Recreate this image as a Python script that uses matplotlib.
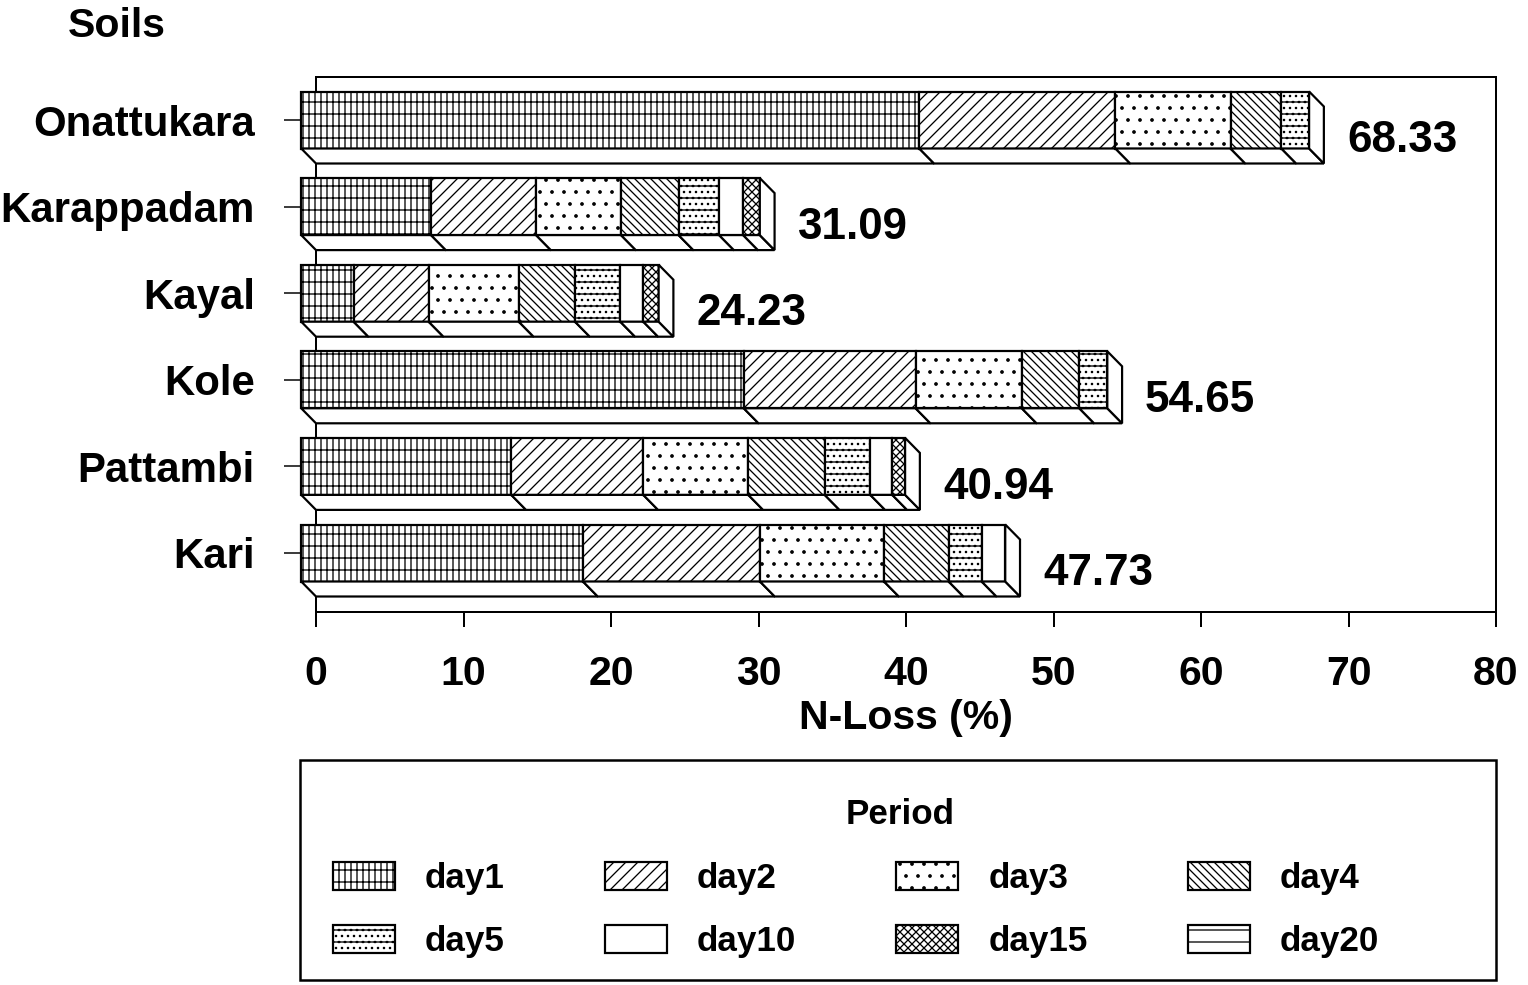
import matplotlib
matplotlib.use('Agg')
import matplotlib.pyplot as plt
from matplotlib.patches import Polygon, Patch, Rectangle
import numpy as np

plt.rcParams['font.family'] = ['Liberation Sans', 'DejaVu Sans']
plt.rcParams['font.weight'] = 'bold'
plt.rcParams['hatch.linewidth'] = 1.3

soils = ['Onattukara', 'Karappadam', 'Kayal', 'Kole', 'Pattambi', 'Kari']
totals = [68.33, 31.09, 24.23, 54.65, 40.94, 47.73]
periods = ['day1', 'day2', 'day3', 'day4', 'day5', 'day10', 'day15', 'day20']
day1 = [41.9, 8.80, 3.55, 30.0, 14.24, 19.1]
day2 = [13.3, 7.12, 5.09, 11.65, 8.95, 12.0]
day3 = [7.8, 5.76, 6.11, 7.2, 7.12, 8.41]
day4 = [3.45, 3.9, 3.81, 3.9, 5.18, 4.38]
day5 = [1.88, 2.75, 3.07, 1.9, 3.09, 2.24]
day10 = [0, 1.63, 1.56, 0, 1.49, 1.6]
day15 = [0, 1.12, 1.05, 0, 0.88, 0]
day20 = [0, 0, 0, 0, 0, 0]
series = [day1, day2, day3, day4, day5, day10, day15, day20]
hatches = ['||-', '//', '.', '\\\\\\', '..-', '', 'xxx', '-']
xticks = [0, 10, 20, 30, 40, 50, 60, 70, 80]

W, H = 1528, 985
fig = plt.figure(figsize=(W / 72, H / 72), dpi=72)
ax = fig.add_axes([316 / W, 1 - 612 / H, 1180 / W, 535 / H])
ax.set_xlim(0, 80)
ypx = 86.6
ax.set_ylim(5 + 59 / ypx, -43 / ypx)

dx = 1.0
dy = 15 / ypx
h = 57 / ypx
ypos = np.arange(len(soils))
lw = 2.2

cum = np.zeros(len(soils))
for vals, hat in zip(series, hatches):
    vals = np.array(vals, dtype=float)
    idx = vals > 0
    if idx.any():
        ax.barh(ypos[idx], vals[idx], left=cum[idx] - dx, height=h,
                color='white', edgecolor='black', hatch=hat, linewidth=lw,
                clip_on=False, zorder=3)
        for j in np.where(idx)[0]:
            l, r = cum[j], cum[j] + vals[j]
            yb = ypos[j] + h / 2
            poly = Polygon([(l - dx, yb), (r - dx, yb), (r, yb + dy), (l, yb + dy)],
                           closed=True, facecolor='white', edgecolor='black',
                           linewidth=lw, clip_on=False, zorder=3)
            ax.add_patch(poly)
    cum = cum + vals

for j, T in enumerate(totals):
    yc = ypos[j]
    poly = Polygon([(T - dx, yc - h / 2), (T, yc - h / 2 + dy), (T, yc + h / 2 + dy),
                    (T - dx, yc + h / 2)], closed=True, facecolor='white',
                   edgecolor='black', linewidth=lw, clip_on=False, zorder=3)
    ax.add_patch(poly)
    ax.text(T + 1.56, yc + 0.24, f'{T:.2f}', fontsize=44, ha='left', va='center',
            fontweight='bold')

ax.set_yticks(ypos, soils)
ax.set_xticks(xticks, [str(t) for t in xticks])
ax.tick_params(axis='y', length=32, width=1.5, pad=29, labelsize=42)
ax.tick_params(axis='x', length=15, width=2, pad=28, labelsize=41)
for s in ax.spines.values():
    s.set_linewidth(2)
ax.set_xlabel('N-Loss (%)', fontsize=41, fontweight='bold', labelpad=6)

fig.text(68 / W, 1 - 26 / H, 'Soils', fontsize=41, ha='left', va='center',
         fontweight='bold')

handles = [Patch(facecolor='white', edgecolor='black', hatch=hat, linewidth=2.2)
           for hat in hatches]
order = [0, 4, 1, 5, 2, 6, 3, 7]
fig.legend([handles[i] for i in order], [periods[i] for i in order], ncol=4,
           loc='upper left', bbox_to_anchor=(333 / W, 1 - 862 / H),
           bbox_transform=fig.transFigure, frameon=False,
           handlelength=1.77, handleheight=0.86, handletextpad=0.86,
           columnspacing=2.86, labelspacing=0.86, borderpad=0, borderaxespad=0,
           prop={'weight': 'bold', 'size': 35})
fig.text(900 / W, 1 - 815 / H, 'Period', fontsize=35, ha='center', va='center',
         fontweight='bold')
fig.add_artist(Rectangle((300 / W, 1 - 980 / H), 1196 / W, 220 / H,
                         transform=fig.transFigure, fill=False, linewidth=2.5,
                         edgecolor='black'))

fig.savefig('out.png', dpi=72, facecolor='white')
